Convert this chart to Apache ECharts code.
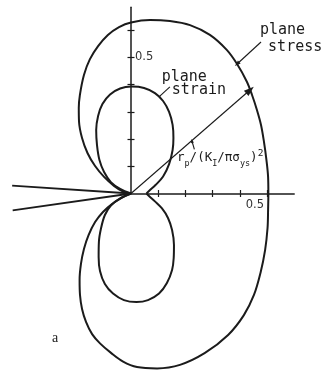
<!DOCTYPE html>
<html>
<head>
<meta charset="utf-8">
<script src="https://cdn.jsdelivr.net/npm/echarts@6/dist/echarts.min.js"></script>
<style>
  html, body { margin: 0; padding: 0; background: #fff; }
  #chart { width: 327px; height: 372px; }
</style>
</head>
<body>
<div id="chart"></div>
<script>
// Plastic zone boundaries, r_p / (K_I / pi sigma_ys)^2, as (x, y) points
const planeStress = [
  [0, 0], [-0.029, 0.007], [-0.0625, 0.028], [-0.099, 0.061], [-0.132, 0.101],
  [-0.160, 0.149], [-0.180, 0.204], [-0.191, 0.263], [-0.192, 0.314], [-0.188, 0.362],
  [-0.173, 0.436], [-0.151, 0.494], [-0.121, 0.542], [-0.085, 0.583], [-0.044, 0.612],
  [0, 0.629], [0.070, 0.638], [0.143, 0.634], [0.217, 0.619], [0.290, 0.583],
  [0.352, 0.528], [0.390, 0.476], [0.426, 0.411], [0.445, 0.362], [0.463, 0.307],
  [0.478, 0.252], [0.489, 0.189], [0.498, 0.123], [0.504, 0.061], [0.505, 0],
  [0.504, -0.061], [0.502, -0.127], [0.493, -0.208], [0.476, -0.292], [0.452, -0.373],
  [0.415, -0.447], [0.357, -0.520], [0.272, -0.586], [0.180, -0.630], [0.096, -0.643],
  [0.022, -0.638], [-0.029, -0.618], [-0.0735, -0.586], [-0.114, -0.551], [-0.143, -0.517],
  [-0.1654, -0.472], [-0.180, -0.4246], [-0.1875, -0.373], [-0.189, -0.318], [-0.184, -0.259],
  [-0.173, -0.204], [-0.156, -0.153], [-0.132, -0.105], [-0.103, -0.068], [-0.070, -0.039],
  [-0.033, -0.015], [0, 0]
];
const planeStrainUpper = [
  [0, 0], [-0.040, 0.017], [-0.074, 0.042], [-0.099, 0.079], [-0.116, 0.123],
  [-0.125, 0.178], [-0.128, 0.233], [-0.121, 0.285], [-0.105, 0.329], [-0.077, 0.364],
  [-0.040, 0.386], [0.002, 0.393], [0.048, 0.388], [0.088, 0.369], [0.118, 0.340],
  [0.140, 0.300], [0.153, 0.252], [0.156, 0.204], [0.153, 0.160], [0.140, 0.108],
  [0.118, 0.0625], [0.090, 0.031], [0.068, 0.011], [0.057, 0]
];
const planeStrainLower = [
  [0.057, 0], [0.068, -0.011], [0.088, -0.029], [0.114, -0.055], [0.136, -0.090],
  [0.151, -0.134], [0.158, -0.189], [0.157, -0.237], [0.151, -0.281], [0.132, -0.329],
  [0.103, -0.368], [0.0625, -0.392], [0.020, -0.399], [-0.026, -0.392], [-0.066, -0.368],
  [-0.096, -0.333], [-0.114, -0.285], [-0.119, -0.233], [-0.118, -0.178], [-0.110, -0.127],
  [-0.096, -0.079], [-0.074, -0.044], [-0.040, -0.018], [0, 0]
];
// Crack flanks behind the tip
const crackUpper = [[-0.437, 0.029], [0, 0]];
const crackLower = [[-0.435, -0.062], [0, 0]];
// Radius arrow from the crack tip to the plane-stress boundary
const radiusArrow = [[0, 0], [0.4375, 0.3805]];

const xTicks = [0.1, 0.2, 0.3, 0.4, 0.5];
const yTicks = [0.1, 0.2, 0.3, 0.4, 0.5, 0.6];
const xTickLabels = [0.5];
const yTickLabels = [0.5];

// Drawn axis lengths (positive quadrant only)
const X_MAX = 0.6;
const Y_MAX = 0.685;
// Layout: one unit on either axis spans the same number of pixels
const W = 327, H = 372;
const PX_PER_UNIT = 272;
const ORIGIN_PX = [131, 193.5];

const INK = '#1b1b1b';
const LETTER = '"DejaVu Sans Mono", monospace';

const chart = echarts.init(document.getElementById('chart'), null, { renderer: 'canvas' });

// Axis pair drawn on grid 0: the main axis (line, inner ticks, label)
// and a twin that only adds the outer half of each tick.
function axisPair(kind, ticks, labels, max) {
  const base = {
    type: 'value', min: 0, max: max, interval: 0.1,
    splitLine: { show: false }, gridIndex: 0,
    position: kind === 'x' ? 'bottom' : 'left'
  };
  const main = Object.assign({}, base, {
    axisLine: { show: true, lineStyle: { color: INK, width: 1.5 } },
    axisTick: { show: true, inside: true, length: 3.5, customValues: ticks,
                lineStyle: { color: INK, width: 1.2 } },
    axisLabel: kind === 'x'
      ? { show: true, customValues: labels, formatter: v => v.toFixed(1), align: 'right',
          verticalAlign: 'top', margin: 6, padding: [0, 3, 0, 0],
          color: '#333', fontSize: 11.5, fontFamily: '"DejaVu Sans", sans-serif' }
      : { show: true, inside: true, customValues: labels, formatter: v => v.toFixed(1),
          margin: 4, color: '#333', fontSize: 11.5, fontFamily: '"DejaVu Sans", sans-serif' }
  });
  const echo = Object.assign({}, base, {
    axisLine: { show: false },
    axisTick: { show: true, inside: false, length: 3.5, customValues: ticks,
                lineStyle: { color: INK, width: 1.2 } },
    axisLabel: { show: false }
  });
  return [main, echo];
}

// Hidden full-canvas axis on grid 1 with the same scale, used for the curves
function plotAxis(kind) {
  const lo = kind === 'x' ? -ORIGIN_PX[0] / PX_PER_UNIT : -(H - ORIGIN_PX[1]) / PX_PER_UNIT;
  const hi = kind === 'x' ? (W - ORIGIN_PX[0]) / PX_PER_UNIT : ORIGIN_PX[1] / PX_PER_UNIT;
  return {
    type: 'value', gridIndex: 1, min: lo, max: hi, show: false,
    splitLine: { show: false }
  };
}

function curve(name, data, width, smooth) {
  return {
    name, type: 'line', data, smooth: smooth, symbol: 'none', clip: false,
    xAxisIndex: 2, yAxisIndex: 2, silent: true,
    lineStyle: { color: INK, width: width, join: 'round' }
  };
}

chart.setOption({
  animation: false,
  backgroundColor: '#fff',
  grid: [
    {
      left: ORIGIN_PX[0],
      top: ORIGIN_PX[1] - Y_MAX * PX_PER_UNIT,
      width: X_MAX * PX_PER_UNIT,
      height: Y_MAX * PX_PER_UNIT
    },
    { left: 0, top: 0, width: W, height: H }
  ],
  xAxis: axisPair('x', xTicks, xTickLabels, X_MAX).concat([plotAxis('x')]),
  yAxis: axisPair('y', yTicks, yTickLabels, Y_MAX).concat([plotAxis('y')]),
  series: [
    curve('plane stress', planeStress, 2, 0.35),
    curve('plane strain upper', planeStrainUpper, 2, 0.35),
    curve('plane strain lower', planeStrainLower, 2, 0.35),
    curve('crack upper', crackUpper, 1.8, false),
    curve('crack lower', crackLower, 1.8, false),
    {
      type: 'line', data: [], xAxisIndex: 2, yAxisIndex: 2, silent: true,
      markLine: {
        silent: true, animation: false, symbol: ['none', 'triangle'],
        label: { show: false },
        lineStyle: { color: INK, width: 1.1, type: 'solid' },
        emphasis: { disabled: true },
        data: [
          [{ coord: radiusArrow[0], symbol: 'none' },
           { coord: radiusArrow[1], symbol: 'triangle', symbolSize: [7, 10] }],
          [{ coord: [0.478, 0.557], symbol: 'none' },
           { coord: [0.390, 0.476], symbol: 'triangle', symbolSize: [4, 6] }],
          [{ coord: [0.143, 0.392], symbol: 'none' },
           { coord: [0.103, 0.355], symbol: 'none' }],
          [{ coord: [0.233, 0.1625], symbol: 'none' },
           { coord: [0.224, 0.193], symbol: 'triangle', symbolSize: [3, 4] }]
        ]
      }
    }
  ]
});

// Annotations anchored in data units
function at(p) { return chart.convertToPixel({ xAxisIndex: 2, yAxisIndex: 2 }, p); }

function word(text, p, size, font) {
  const q = at(p);
  return {
    type: 'text', x: q[0], y: q[1], silent: true,
    style: { text, fill: INK, font: size + 'px ' + font, textVerticalAlign: 'top', textAlign: 'left' }
  };
}

const rp = at([0.169, 0.130]);
chart.setOption({
  graphic: [
    word('plane', [0.474, 0.630], 15, LETTER),
    word('stress', [0.504, 0.566], 15, LETTER),
    word('plane', [0.113, 0.455], 15, LETTER),
    word('strain', [0.150, 0.408], 15, LETTER),
    word('a', [-0.290, -0.505], 14, '"Liberation Serif", serif'),
    {
      type: 'text', x: rp[0], y: rp[1], silent: true,
      style: {
        text: '{m|r}{s|p}{m|/(K}{s|I}{m|/πσ}{s|ys}{m|)}{u|2}',
        fill: INK, textVerticalAlign: 'middle', textAlign: 'left',
        rich: {
          m: { fontSize: 12.5, fontFamily: LETTER, lineHeight: 20, verticalAlign: 'middle', fill: INK },
          s: { fontSize: 8.5, fontFamily: LETTER, lineHeight: 9, verticalAlign: 'bottom', fill: INK },
          u: { fontSize: 9.5, fontFamily: LETTER, lineHeight: 9, verticalAlign: 'top', fill: INK }
        }
      }
    }
  ]
});
</script>
</body>
</html>
